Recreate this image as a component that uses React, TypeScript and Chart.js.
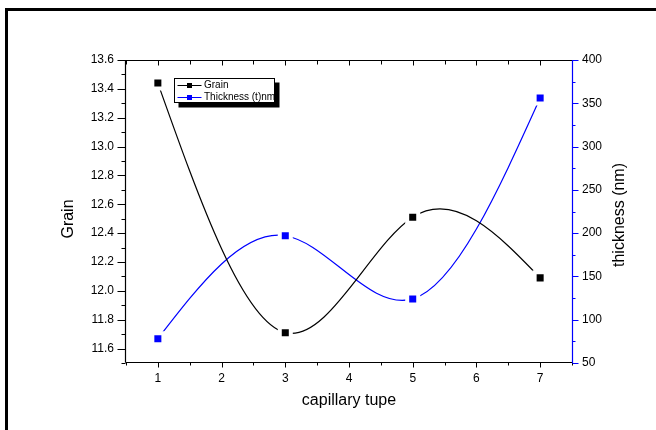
import React, { useEffect, useRef } from 'react';
import { Chart, registerables } from 'chart.js';

Chart.register(...registerables);

// ---- data ----
const CAPILLARY = [1, 3, 5, 7];
const GRAIN = [13.44, 11.71, 12.51, 12.09];
const THICKNESS = [78, 197, 124, 356];

// ---- axis ticks ----
const X_TICKS = [1, 2, 3, 4, 5, 6, 7];
const GRAIN_TICKS = [11.6, 11.8, 12.0, 12.2, 12.4, 12.6, 12.8, 13.0, 13.2, 13.4, 13.6];
const THICKNESS_TICKS = [50, 100, 150, 200, 250, 300, 350, 400];

const X_MIN = 0.5;
const X_MAX = 7.5;
const GRAIN_MIN = 11.5;
const GRAIN_MAX = 13.6;
const TH_MIN = 50;
const TH_MAX = 400;

// ---- text ----
const X_TITLE = 'capillary tupe';
const Y_TITLE = 'Grain';
const Y1_TITLE = 'thickness (nm)';
const LABEL_GRAIN = 'Grain';
const LABEL_TH = 'Thickness (t)nm';

const FONT = '"Liberation Sans", Arial, Helvetica, sans-serif';
const BLACK = '#000000';
const BLUE = '#0000ff';

function minorTicks(major: number[], min: number, max: number): number[] {
  const step = major[1] - major[0];
  const out: number[] = [];
  for (let i = 0; i < major.length - 1; i++) out.push((major[i] + major[i + 1]) / 2);
  const lo = major[0] - step / 2;
  const hi = major[major.length - 1] + step / 2;
  if (lo >= min - 1e-9) out.push(lo);
  if (hi <= max + 1e-9) out.push(hi);
  return out;
}

// natural cubic spline control points (like Origin's spline connection)
function naturalSpline(points: any[]) {
  const n = points.length;
  if (n < 3) return;
  const xs = points.map((p) => p.x);
  const ys = points.map((p) => p.y);
  const h: number[] = [];
  for (let i = 0; i < n - 1; i++) h[i] = xs[i + 1] - xs[i];
  const m = n - 2;
  const a: number[] = [], b: number[] = [], c: number[] = [], d: number[] = [];
  for (let k = 0; k < m; k++) {
    const i = k + 1;
    a[k] = h[i - 1];
    b[k] = 2 * (h[i - 1] + h[i]);
    c[k] = h[i];
    d[k] = 6 * ((ys[i + 1] - ys[i]) / h[i] - (ys[i] - ys[i - 1]) / h[i - 1]);
  }
  for (let k = 1; k < m; k++) {
    const w = a[k] / b[k - 1];
    b[k] -= w * c[k - 1];
    d[k] -= w * d[k - 1];
  }
  const Mi: number[] = new Array(m);
  Mi[m - 1] = d[m - 1] / b[m - 1];
  for (let k = m - 2; k >= 0; k--) Mi[k] = (d[k] - c[k] * Mi[k + 1]) / b[k];
  const M = [0, ...Mi, 0];
  for (let i = 0; i < n - 1; i++) {
    const hi = h[i];
    const sl = (ys[i + 1] - ys[i]) / hi;
    const s0 = sl - (hi * (2 * M[i] + M[i + 1])) / 6;
    const s1 = sl + (hi * (M[i] + 2 * M[i + 1])) / 6;
    points[i].cp2x = xs[i] + hi / 3;
    points[i].cp2y = ys[i] + (s0 * hi) / 3;
    points[i + 1].cp1x = xs[i + 1] - hi / 3;
    points[i + 1].cp1y = ys[i + 1] - (s1 * hi) / 3;
  }
  points[0].cp1x = xs[0];
  points[0].cp1y = ys[0];
  points[n - 1].cp2x = xs[n - 1];
  points[n - 1].cp2y = ys[n - 1];
}

const splinePlugin = {
  id: 'naturalSpline',
  beforeDatasetDraw(chart: any, args: any) {
    const meta = args.meta;
    const line = meta.dataset;
    if (!line) return;
    line.updateControlPoints(chart.chartArea, 'x');
    naturalSpline(meta.data);
  },
};

const framePlugin = {
  id: 'originFrame',
  beforeDraw(chart: any) {
    const { ctx, width, height } = chart;
    ctx.save();
    ctx.fillStyle = '#ffffff';
    ctx.fillRect(0, 0, width, height);
    ctx.fillStyle = BLACK;
    ctx.fillRect(5, 8, 3, height - 8);
    ctx.fillRect(5, 8, width - 5, 3);
    ctx.restore();
  },
  afterDraw(chart: any) {
    const { ctx, chartArea: ar, scales } = chart;
    const sx = scales.x, sy = scales.y, sy1 = scales.y1;
    const L = ar.left - 0.5;
    const R = ar.right + 0.5;
    const T = ar.top + 0.5;
    const B = ar.bottom - 0.5;
    ctx.save();
    ctx.lineWidth = 1.2;
    ctx.lineCap = 'butt';

    // black frame lines (left, top, bottom)
    ctx.strokeStyle = BLACK;
    ctx.beginPath();
    ctx.moveTo(L, B);
    ctx.lineTo(L, T);
    ctx.lineTo(R, T);
    ctx.moveTo(L, B);
    ctx.lineTo(R, B);
    ctx.stroke();

    // left ticks
    ctx.lineWidth = 1;
    ctx.beginPath();
    GRAIN_TICKS.forEach((v) => {
      const p = Math.round(sy.getPixelForValue(v)) + 0.5;
      ctx.moveTo(L - 8, p);
      ctx.lineTo(L, p);
    });
    minorTicks(GRAIN_TICKS, GRAIN_MIN, GRAIN_MAX).forEach((v) => {
      const p = Math.round(sy.getPixelForValue(v)) + 0.5;
      ctx.moveTo(L - 4, p);
      ctx.lineTo(L, p);
    });
    // bottom ticks
    X_TICKS.forEach((v) => {
      const p = Math.round(sx.getPixelForValue(v)) + 0.5;
      ctx.moveTo(p, B);
      ctx.lineTo(p, B + 5);
      ctx.moveTo(p, T);
      ctx.lineTo(p, T + 5);
    });
    minorTicks(X_TICKS, X_MIN, X_MAX).forEach((v) => {
      const p = Math.round(sx.getPixelForValue(v)) + 0.5;
      ctx.moveTo(p, B);
      ctx.lineTo(p, B + 3);
      ctx.moveTo(p, T);
      ctx.lineTo(p, T + 4);
    });
    ctx.stroke();

    // right axis (blue)
    ctx.strokeStyle = BLUE;
    ctx.lineWidth = 1.2;
    ctx.beginPath();
    ctx.moveTo(R, T - 0.5);
    ctx.lineTo(R, B + 0.5);
    ctx.stroke();
    ctx.lineWidth = 1;
    ctx.beginPath();
    THICKNESS_TICKS.forEach((v) => {
      const p = Math.round(sy1.getPixelForValue(v)) + 0.5;
      ctx.moveTo(R, p);
      ctx.lineTo(R + 6, p);
    });
    minorTicks(THICKNESS_TICKS, TH_MIN, TH_MAX).forEach((v) => {
      const p = Math.round(sy1.getPixelForValue(v)) + 0.5;
      ctx.moveTo(R, p);
      ctx.lineTo(R + 3, p);
    });
    ctx.stroke();

    // axis titles
    ctx.fillStyle = BLACK;
    ctx.font = `16px ${FONT}`;
    ctx.textAlign = 'center';
    ctx.textBaseline = 'middle';
    ctx.fillText(X_TITLE, (ar.left + ar.right) / 2, 400.5);
    ctx.save();
    ctx.translate(69, 219);
    ctx.rotate(-Math.PI / 2);
    ctx.fillText(Y_TITLE, 0, 0);
    ctx.restore();
    ctx.save();
    ctx.translate(620, 215);
    ctx.rotate(-Math.PI / 2);
    ctx.fillText(Y1_TITLE, 0, 0);
    ctx.restore();

    // legend with drop shadow
    const lx = ar.left + 48;
    const ly = ar.top + 18;
    const lw = 101;
    const lh = 25;
    ctx.fillStyle = BLACK;
    ctx.fillRect(lx + 4.5, ly + 4.5, lw, lh);
    ctx.fillStyle = '#ffffff';
    ctx.fillRect(lx, ly, lw, lh);
    ctx.strokeStyle = BLACK;
    ctx.lineWidth = 1;
    ctx.strokeRect(lx + 0.5, ly + 0.5, lw - 1, lh - 1);
    chart.data.datasets.forEach((ds: any, i: number) => {
      const y = ly + 6.5 + i * 12.5;
      ctx.strokeStyle = ds.borderColor;
      ctx.lineWidth = 1;
      ctx.beginPath();
      ctx.moveTo(lx + 3.5, Math.round(y) + 0.5);
      ctx.lineTo(lx + 27.5, Math.round(y) + 0.5);
      ctx.stroke();
      ctx.fillStyle = ds.borderColor;
      ctx.fillRect(lx + 13, Math.round(y) - 2, 5, 5);
      ctx.fillStyle = BLACK;
      ctx.font = `10px ${FONT}`;
      ctx.textAlign = 'left';
      ctx.textBaseline = 'middle';
      ctx.fillText(ds.label, lx + 30, y + 0.5);
    });
    ctx.restore();
  },
};

export default function App() {
  const ref = useRef<HTMLCanvasElement | null>(null);

  useEffect(() => {
    if (!ref.current) return;
    const tickFont = { family: FONT, size: 12 };
    const chart = new Chart(ref.current, {
      type: 'line',
      data: {
        datasets: [
          {
            label: LABEL_GRAIN,
            data: CAPILLARY.map((x, i) => ({ x, y: GRAIN[i] })),
            yAxisID: 'y',
            borderColor: BLACK,
            backgroundColor: BLACK,
            borderWidth: 1.2,
            tension: 0.4,
            fill: false,
            pointStyle: 'rect',
            pointRadius: 7.8,
            pointBorderWidth: 4,
            pointBorderColor: '#ffffff',
            pointBackgroundColor: BLACK,
          },
          {
            label: LABEL_TH,
            data: CAPILLARY.map((x, i) => ({ x, y: THICKNESS[i] })),
            yAxisID: 'y1',
            borderColor: BLUE,
            backgroundColor: BLUE,
            borderWidth: 1.2,
            tension: 0.4,
            fill: false,
            pointStyle: 'rect',
            pointRadius: 7.8,
            pointBorderWidth: 4,
            pointBorderColor: '#ffffff',
            pointBackgroundColor: BLUE,
          },
        ],
      },
      options: {
        responsive: false,
        animation: false,
        events: [],
        layout: { padding: { top: 60, left: 0, right: 0, bottom: 0 } },
        plugins: {
          legend: { display: false },
          tooltip: { enabled: false },
        },
        scales: {
          x: {
            type: 'linear',
            min: X_MIN,
            max: X_MAX,
            afterBuildTicks: (s: any) => {
              s.ticks = X_TICKS.map((value) => ({ value }));
            },
            afterFit: (s: any) => {
              s.height = 67;
            },
            grid: { display: false, drawTicks: false },
            border: { display: false },
            ticks: {
              padding: 8,
              color: BLACK,
              font: tickFont,
              maxRotation: 0,
              autoSkip: false,
              callback: (v: any) => String(v),
            },
          },
          y: {
            type: 'linear',
            position: 'left',
            min: GRAIN_MIN,
            max: GRAIN_MAX,
            afterBuildTicks: (s: any) => {
              s.ticks = GRAIN_TICKS.map((value) => ({ value }));
            },
            afterFit: (s: any) => {
              s.width = 126;
            },
            grid: { display: false, drawTicks: false },
            border: { display: false },
            ticks: {
              padding: 12,
              color: BLACK,
              font: tickFont,
              autoSkip: false,
              callback: (v: any) => Number(v).toFixed(1),
            },
          },
          y1: {
            type: 'linear',
            position: 'right',
            min: TH_MIN,
            max: TH_MAX,
            afterBuildTicks: (s: any) => {
              s.ticks = THICKNESS_TICKS.map((value) => ({ value }));
            },
            afterFit: (s: any) => {
              s.width = 84;
            },
            grid: { display: false, drawTicks: false },
            border: { display: false },
            ticks: {
              padding: 10,
              color: BLACK,
              font: tickFont,
              autoSkip: false,
              callback: (v: any) => String(v),
            },
          },
        },
      },
      plugins: [splinePlugin, framePlugin],
    } as any);
    return () => chart.destroy();
  }, []);

  return (
    <div style={{ position: 'fixed', left: 0, top: 0, width: 656, height: 430, background: '#fff' }}>
      <canvas ref={ref} width={656} height={430} style={{ display: 'block' }} />
    </div>
  );
}
